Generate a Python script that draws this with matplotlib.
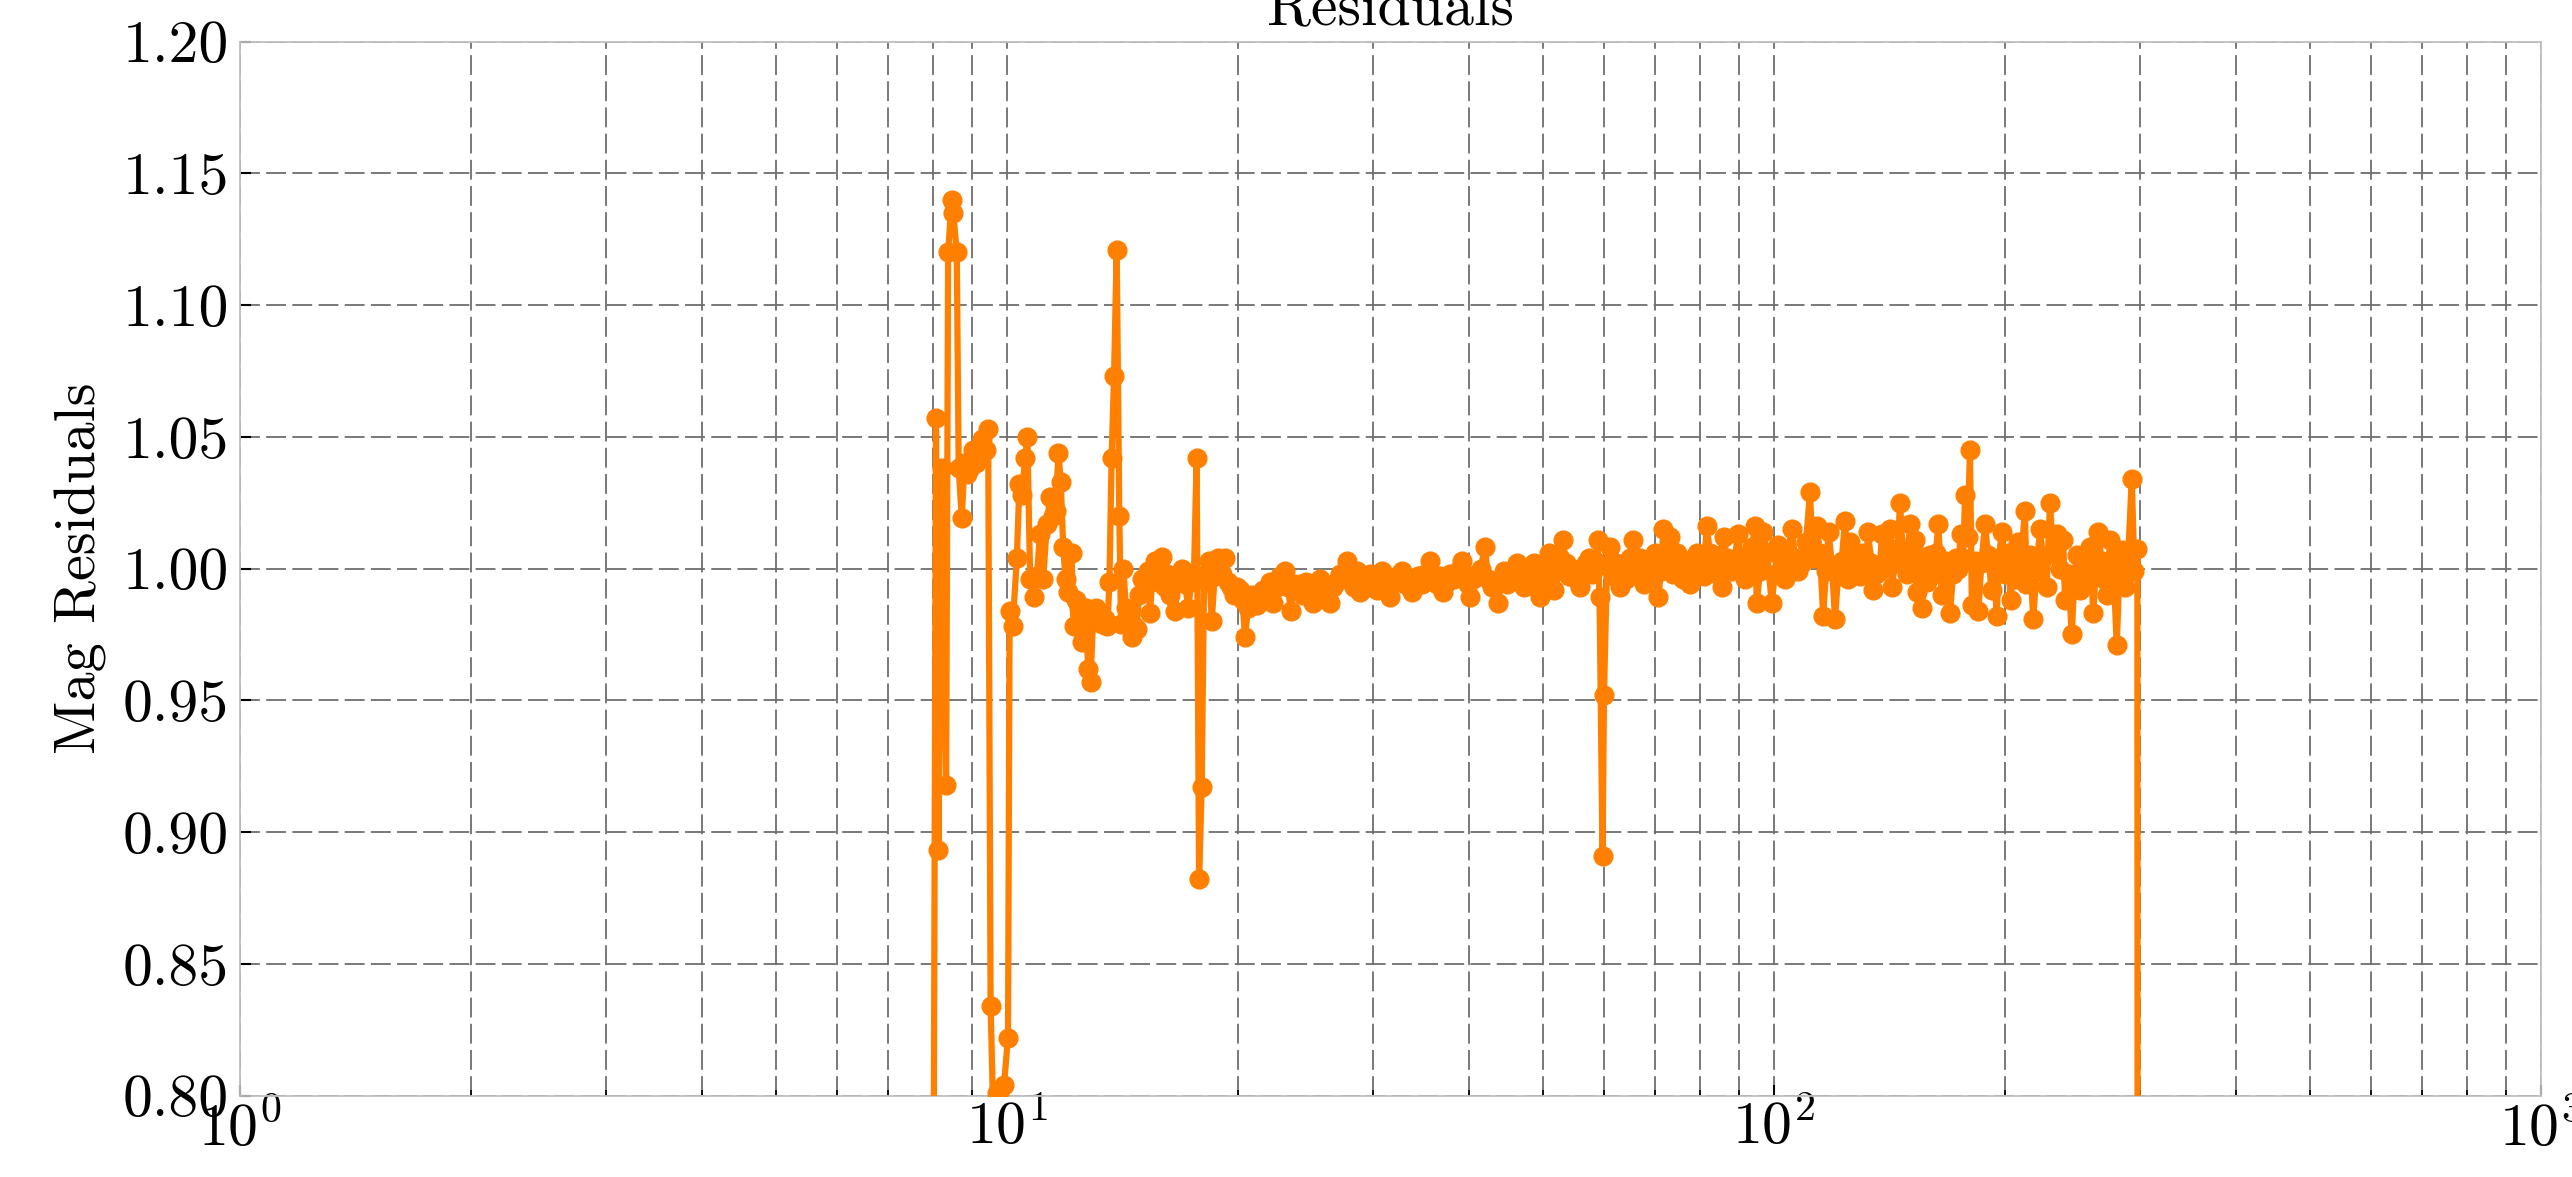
import numpy as np
import matplotlib
matplotlib.use("Agg")
import matplotlib.pyplot as plt
from matplotlib.ticker import FormatStrFormatter, LogLocator, NullFormatter

plt.rcParams['font.family'] = 'serif'
plt.rcParams['font.serif'] = ['cmr10']
plt.rcParams['mathtext.fontset'] = 'cm'
plt.rcParams['axes.formatter.use_mathtext'] = True
plt.rcParams['axes.unicode_minus'] = False

# ---------------- data ----------------
# segment A: onset region, ~8-14 Hz
freq_a = [8.01, 8.08, 8.14, 8.22, 8.33, 8.38, 8.47, 8.51, 8.60, 8.65,
          8.73, 8.80, 8.87, 8.95, 9.03, 9.11, 9.19, 9.28, 9.38, 9.45,
          9.52, 9.60, 9.69, 9.79, 9.91, 10.03, 10.08, 10.17, 10.30, 10.38,
          10.46, 10.56, 10.63, 10.72, 10.84, 10.94, 11.04, 11.15, 11.27, 11.38,
          11.48, 11.57, 11.67, 11.75, 11.84, 11.92, 12.01, 12.14, 12.21, 12.32,
          12.43, 12.54, 12.66, 12.76, 12.85, 12.95, 13.06, 13.18, 13.30, 13.42,
          13.52, 13.60, 13.69, 13.79, 13.90, 14.01, 14.08]
resid_a = [0.700, 1.057, 0.893, 1.038, 0.918, 1.120, 1.140, 1.135, 1.120, 1.038,
           1.019, 1.040, 1.036, 1.038, 1.045, 1.040, 1.046, 1.049, 1.045, 1.053,
           0.834, 0.790, 0.801, 0.802, 0.804, 0.822, 0.984, 0.978, 1.004, 1.032,
           1.028, 1.042, 1.050, 0.996, 0.989, 0.997, 1.013, 0.996, 1.017, 1.027,
           1.020, 1.022, 1.044, 1.033, 1.008, 0.996, 0.991, 1.006, 0.978, 0.988,
           0.985, 0.972, 0.985, 0.962, 0.957, 0.982, 0.985, 0.980, 0.979, 0.981,
           0.978, 0.995, 1.042, 1.073, 1.121, 1.020, 0.979]

# segment B: ~14-28 Hz
freq_b = [14.18, 14.29, 14.42, 14.54, 14.64, 14.76, 14.86, 15.00, 15.13, 15.27,
          15.36, 15.48, 15.60, 15.74, 15.91, 16.05, 16.19, 16.31, 16.44, 16.56,
          16.71, 16.90, 17.07, 17.24, 17.38, 17.53, 17.67, 17.80, 17.94, 18.07,
          18.21, 18.34, 18.49, 18.65, 18.86, 19.05, 19.24, 19.42, 19.59, 19.77,
          19.95, 20.13, 20.28, 20.43, 20.62, 20.84, 21.02, 21.18, 21.37, 21.57,
          21.80, 22.03, 22.25, 22.46, 22.67, 22.84, 23.05, 23.26, 23.43, 23.64,
          23.89, 24.10, 24.32, 24.54, 24.83, 25.08, 25.36, 25.59, 25.82, 26.10,
          26.37, 26.61, 26.89, 27.18, 27.42, 27.73]
resid_b = [1.000, 0.985, 0.980, 0.974, 0.978, 0.977, 0.990, 0.996, 0.995, 0.999,
           0.983, 0.997, 1.003, 0.995, 1.0045, 0.993, 0.998, 0.990, 0.995, 0.984,
           0.997, 1.000, 0.994, 0.985, 0.995, 0.998, 1.042, 0.882, 0.917, 0.997,
           0.995, 1.003, 0.980, 0.997, 1.004, 0.998, 1.004, 0.995, 0.993, 0.990,
           0.993, 0.992, 0.988, 0.974, 0.985, 0.990, 0.988, 0.986, 0.990, 0.992,
           0.990, 0.995, 0.987, 0.993, 0.997, 0.995, 0.999, 0.993, 0.984, 0.994,
           0.992, 0.994, 0.990, 0.995, 0.993, 0.987, 0.994, 0.996, 0.991, 0.993,
           0.987, 0.993, 0.995, 0.998, 0.996, 1.003]

# segment C: ~28-66 Hz (incl. 60 Hz dip)
freq_c = [28.01, 28.30, 28.60, 28.86, 29.16, 29.47, 29.73, 30.05, 30.37, 30.80,
          31.11, 31.39, 31.62, 31.96, 32.29, 32.70, 33.03, 33.38, 33.70, 34.03,
          34.39, 34.76, 35.12, 35.60, 35.98, 36.36, 36.69, 37.06, 37.47, 37.86,
          38.26, 38.67, 39.15, 39.54, 39.90, 40.15, 40.57, 41.00, 41.44, 42.00,
          42.38, 42.83, 43.28, 43.71, 44.07, 44.40, 44.87, 45.34, 45.82, 46.24,
          46.73, 47.22, 47.72, 48.22, 48.66, 49.09, 49.54, 49.99, 50.44, 50.90,
          51.36, 51.67, 52.14, 52.61, 53.01, 53.57, 54.05, 54.63, 55.20, 55.78,
          56.36, 56.88, 57.39, 57.91, 58.43, 58.88, 59.23, 59.76, 60.03, 60.57,
          61.11, 61.67, 62.23, 62.98, 63.55, 64.22, 64.90, 65.55]
resid_c = [0.996, 0.993, 0.999, 0.991, 0.996, 0.993, 0.998, 0.995, 0.992, 0.999,
           0.994, 0.996, 0.989, 0.995, 0.997, 0.999, 0.994, 0.996, 0.991, 0.995,
           0.997, 0.994, 0.998, 1.003, 0.996, 0.994, 0.997, 0.991, 0.995, 0.998,
           0.996, 0.999, 1.003, 0.997, 0.994, 0.989, 0.996, 0.998, 1.000, 1.008,
           0.996, 0.993, 0.995, 0.987, 0.996, 0.999, 0.994, 0.997, 0.999, 1.002,
           0.996, 0.993, 0.997, 1.000, 1.002, 0.995, 0.989, 0.997, 1.001, 1.006,
           0.998, 0.992, 0.999, 1.004, 1.011, 1.002, 0.997, 1.000, 0.996, 0.993,
           0.999, 1.002, 1.004, 0.998, 1.003, 1.011, 0.989, 0.891, 0.952, 1.001,
           1.008, 0.997, 1.002, 0.993, 1.000, 0.996, 1.004, 1.011]

# segment D: ~66-137 Hz
freq_d = [66.28, 66.98, 67.69, 68.41, 69.12, 69.86, 70.65, 71.24, 71.73, 72.43,
          73.19, 73.85, 74.63, 75.42, 76.10, 76.90, 77.71, 78.41, 79.25, 80.08,
          80.93, 81.71, 82.52, 83.39, 84.27, 85.04, 85.47, 85.94, 86.84, 87.77,
          88.70, 89.85, 90.71, 91.67, 92.65, 93.60, 94.45, 94.95, 95.89, 96.85,
          97.92, 99.31, 100.3, 101.3, 102.3, 103.3, 104.3, 105.5, 106.5, 107.6,
          108.8, 110.1, 111.4, 112.4, 113.7, 114.8, 115.9, 116.9, 117.8, 119.0,
          120.1, 121.2, 122.5, 123.8, 124.9, 125.6, 126.9, 128.3, 129.4, 130.8,
          131.8, 132.7, 133.8, 134.7, 136.0]
resid_d = [0.998, 1.004, 0.994, 1.001, 0.997, 1.006, 0.989, 0.999, 1.015, 1.004,
           1.012, 0.998, 1.006, 1.002, 0.996, 1.003, 0.994, 1.000, 1.006, 1.003,
           0.997, 1.016, 1.006, 1.002, 0.998, 1.005, 0.993, 1.012, 1.004, 0.999,
           1.003, 1.013, 1.001, 0.996, 1.004, 1.008, 1.016, 0.987, 0.999, 1.014,
           1.006, 0.987, 0.998, 1.009, 1.003, 0.996, 1.006, 1.015, 1.004, 0.999,
           1.002, 1.010, 1.029, 1.004, 1.016, 1.006, 0.982, 0.999, 1.014, 1.001,
           0.981, 0.997, 1.003, 1.018, 0.996, 1.010, 1.004, 0.999, 0.997, 1.006,
           1.001, 1.014, 1.002, 0.992, 0.998]

# segment E: ~137-300 Hz (ends with a drop far below the axis)
freq_e = [137.3, 138.3, 139.8, 140.8, 141.7, 142.4, 143.8, 144.9, 146.0, 147.3,
          148.9, 150.4, 151.6, 152.7, 153.5, 154.5, 155.8, 157.1, 158.5, 159.7,
          161.2, 162.6, 163.8, 165.4, 166.9, 168.4, 169.6, 171.2, 172.7, 173.9,
          175.1, 176.4, 177.5, 178.8, 180.1, 181.1, 182.6, 184.7, 186.4, 188.4,
          190.1, 192.2, 193.6, 195.1, 196.5, 198.1, 200.1, 201.9, 203.4, 205.3,
          206.8, 208.3, 209.9, 212.4, 213.4, 215.4, 217.8, 219.9, 222.2, 224.2,
          226.7, 229.0, 231.1, 233.6, 236.0, 238.3, 239.5, 242.1, 244.4, 246.5,
          248.1, 250.6, 253.2, 255.9, 258.2, 260.8, 262.9, 264.7, 267.3, 269.3,
          271.6, 274.3, 276.7, 279.8, 282.2, 284.0, 286.9, 289.5, 292.7, 295.1,
          297.7, 298.3]
resid_e = [0.999, 1.013, 1.003, 1.008, 1.015, 0.993, 1.002, 1.006, 1.025, 1.004,
           0.998, 1.017, 1.008, 1.011, 0.991, 1.002, 0.985, 1.001, 0.995, 1.005,
           0.998, 1.006, 1.017, 0.990, 1.003, 0.997, 0.983, 0.998, 1.004, 1.000,
           1.013, 1.004, 1.028, 1.012, 1.045, 0.986, 1.003, 0.984, 1.002, 1.017,
           1.005, 0.992, 1.001, 0.982, 1.004, 1.014, 0.998, 1.006, 0.988, 1.001,
           0.996, 1.010, 1.003, 1.022, 0.994, 1.005, 0.981, 0.999, 1.015, 1.004,
           0.993, 1.025, 1.006, 1.013, 1.000, 1.011, 0.988, 0.998, 0.975, 0.996,
           1.005, 0.992, 1.002, 0.997, 1.008, 0.983, 1.001, 1.014, 1.003, 0.996,
           0.990, 1.011, 1.004, 0.971, 1.001, 1.007, 0.993, 1.004, 1.034, 0.999,
           1.0075, 0.200]

ytick_values = [0.80, 0.85, 0.90, 0.95, 1.00, 1.05, 1.10, 1.15, 1.20]
title_text = "Residuals"
ylabel_text = "Mag Residuals"

freq = np.array(freq_a + freq_b + freq_c + freq_d + freq_e)
resid = np.array(resid_a + resid_b + resid_c + resid_d + resid_e)

# ---------------- figure ----------------
W, H = 2572, 1177
fig = plt.figure(figsize=(W / 100, H / 100), dpi=100)
left, right, top, bottom = 240, 2541, 41.5, 1095.5
ax = fig.add_axes([left / W, 1 - bottom / H, (right - left) / W, (bottom - top) / H])

ax.plot(freq, resid, color='#ff8000', lw=4.5, marker='o', ms=13.5, mew=1.0,
        zorder=3, clip_on=True)

ax.set_xscale('log')
ax.set_xlim(1, 1000)
ax.set_ylim(0.80, 1.20)
ax.set_yticks(ytick_values)
ax.yaxis.set_major_formatter(FormatStrFormatter('%.2f'))
ax.xaxis.set_minor_locator(LogLocator(base=10, subs=range(2, 10), numticks=50))
ax.xaxis.set_minor_formatter(NullFormatter())

grid_kw = dict(ls=(0, (11, 3.5)), color='#6e6e6e', lw=1.3)
ax.grid(True, which='major', axis='both', **grid_kw)
ax.grid(True, which='minor', axis='x', **grid_kw)

ax.tick_params(which='both', direction='in', color='black', labelsize=43)
ax.tick_params(axis='x', which='major', length=8, width=1.5, pad=3)
ax.tick_params(axis='x', which='minor', length=4, width=1.2)
ax.tick_params(axis='y', which='major', length=8, width=1.5, pad=8)

for sp in ax.spines.values():
    sp.set_color('#bfbfbf')
    sp.set_linewidth(1.3)

ax.set_title(title_text, fontsize=43, pad=12)
ax.set_ylabel(ylabel_text, fontsize=42)
ax.yaxis.set_label_coords((107 - left) / (right - left), 0.5)

fig.savefig('out.png', dpi=100, facecolor='white')
